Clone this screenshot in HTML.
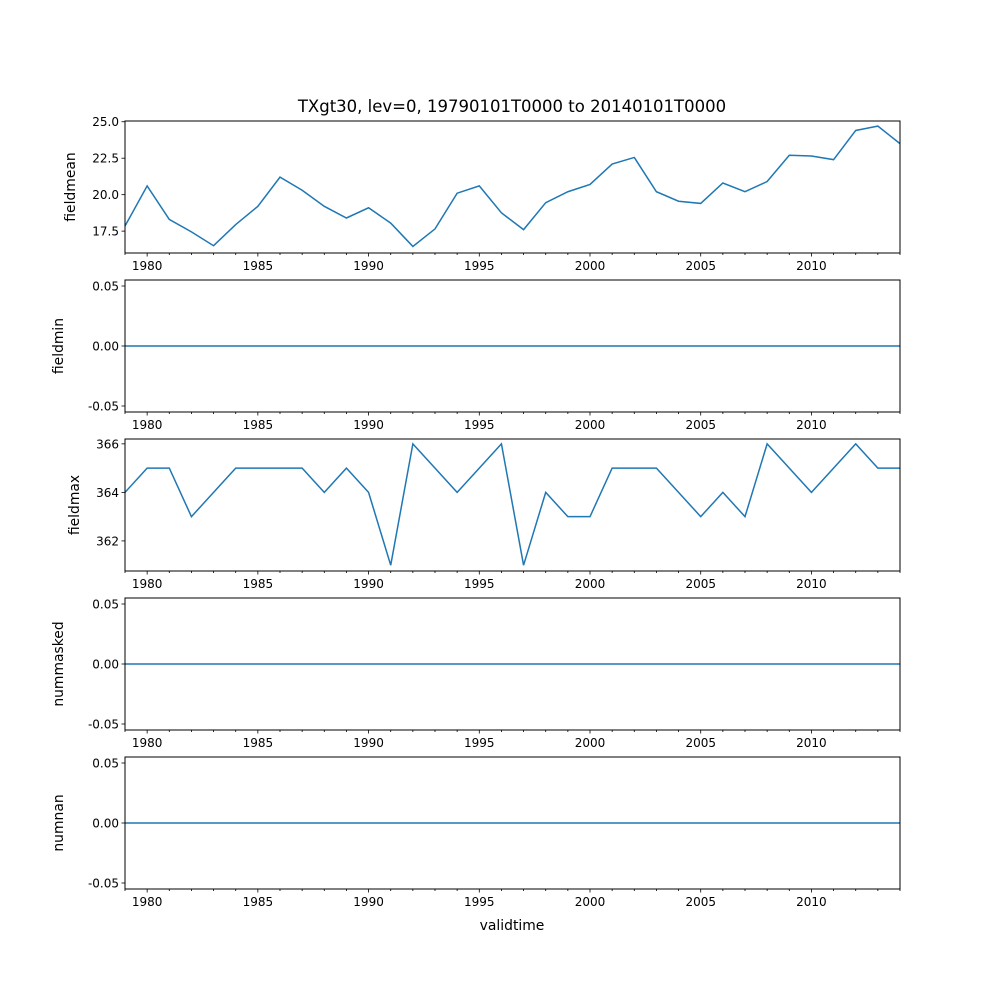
<!DOCTYPE html>
<html><head><meta charset="utf-8"><style>
body{margin:0;background:#fff}
svg{display:block;font-family:"DejaVu Sans","Liberation Sans",sans-serif}
</style></head><body>
<svg id="c" width="1000" height="1000" viewBox="0 0 1000 1000">
<text x="512" y="112" font-size="16.5" text-anchor="middle">TXgt30, lev=0, 19790101T0000 to 20140101T0000</text>
<text x="512" y="930" font-size="13.9" text-anchor="middle">validtime</text>
</svg>
<script>
const years = [1979,1980,1981,1982,1983,1984,1985,1986,1987,1988,1989,1990,1991,1992,1993,1994,1995,1996,1997,1998,1999,2000,2001,2002,2003,2004,2005,2006,2007,2008,2009,2010,2011,2012,2013,2014];
const fieldmean = [17.85,20.6,18.3,17.45,16.5,17.95,19.2,21.2,20.3,19.2,18.4,19.1,18.05,16.45,17.65,20.1,20.6,18.75,17.6,19.45,20.2,20.7,22.1,22.55,20.2,19.55,19.4,20.8,20.2,20.9,22.7,22.65,22.4,24.4,24.7,23.5];
const fieldmin = years.map(()=>0);
const fieldmax = [364,365,365,363,364,365,365,365,365,364,365,364,361,366,365,364,365,366,361,364,363,363,365,365,365,364,363,364,363,366,365,364,365,366,365,365];
const nummasked = years.map(()=>0);
const numnan = years.map(()=>0);
const xTickLabels = [1980,1985,1990,1995,2000,2005,2010];
const panels = [
 {name:'fieldmean',vals:fieldmean,top:121,lo:16.0,hi:25.05,ticks:[17.5,20.0,22.5,25.0],fmt:v=>v.toFixed(1)},
 {name:'fieldmin',vals:fieldmin,top:280,lo:-0.055,hi:0.055,ticks:[-0.05,0,0.05],fmt:v=>v.toFixed(2)},
 {name:'fieldmax',vals:fieldmax,top:439,lo:360.76,hi:366.2,ticks:[362,364,366],fmt:v=>String(v)},
 {name:'nummasked',vals:nummasked,top:598,lo:-0.055,hi:0.055,ticks:[-0.05,0,0.05],fmt:v=>v.toFixed(2)},
 {name:'numnan',vals:numnan,top:757,lo:-0.055,hi:0.055,ticks:[-0.05,0,0.05],fmt:v=>v.toFixed(2)}
];
const svg=document.getElementById('c');
const NS='http://www.w3.org/2000/svg';
const L=125,R=900,H=132;
const xs=y=>L+(y-1979)/(2014-1979)*(R-L);
function mk(tag,attrs,parent){const e=document.createElementNS(NS,tag);for(const k in attrs)e.setAttribute(k,attrs[k]);(parent||svg).appendChild(e);return e;}
panels.forEach(p=>{
 const g=mk('g',{});
 
 
 const ys=v=>p.top+H-(v-p.lo)/(p.hi-p.lo)*H;
 const d=p.vals.map((v,i)=>(i?'L':'M')+xs(years[i]).toFixed(2)+','+ys(v).toFixed(2)).join('');
 const line=mk('path',{d:d,fill:'none',stroke:'#1f77b4','stroke-width':1.5},g);
 
 
 const fr=mk('rect',{x:L,y:p.top,width:R-L,height:H,fill:'none',stroke:'#000','stroke-width':1},g);
 
 
 years.forEach(y=>{const x=xs(y);const major=xTickLabels.includes(y);mk('line',{x1:x,x2:x,y1:p.top+H,y2:p.top+H+(major?3.5:2),stroke:'#000','stroke-width':0.8},g);});
 xTickLabels.forEach(y=>{const t=mk('text',{x:xs(y),y:p.top+H+17,'font-size':12,'text-anchor':'middle'},g);t.textContent=y;
  
  });
 p.ticks.forEach(v=>{const y=ys(v);mk('line',{x1:L-3.5,x2:L,y1:y,y2:y,stroke:'#000','stroke-width':0.8},g);
  const t=mk('text',{x:L-6,y:y+4.5,'font-size':12,'text-anchor':'end'},g);t.textContent=p.fmt(v);
  
  });
 const lab=mk('text',{x:0,y:0,'font-size':13.9,'text-anchor':'middle',transform:`translate(${p.name==='fieldmean'?75:p.name==='fieldmax'?79:63},${p.top+H/2}) rotate(-90)`},g);
 lab.textContent=p.name;
 
 
});
</script>
</body></html>
